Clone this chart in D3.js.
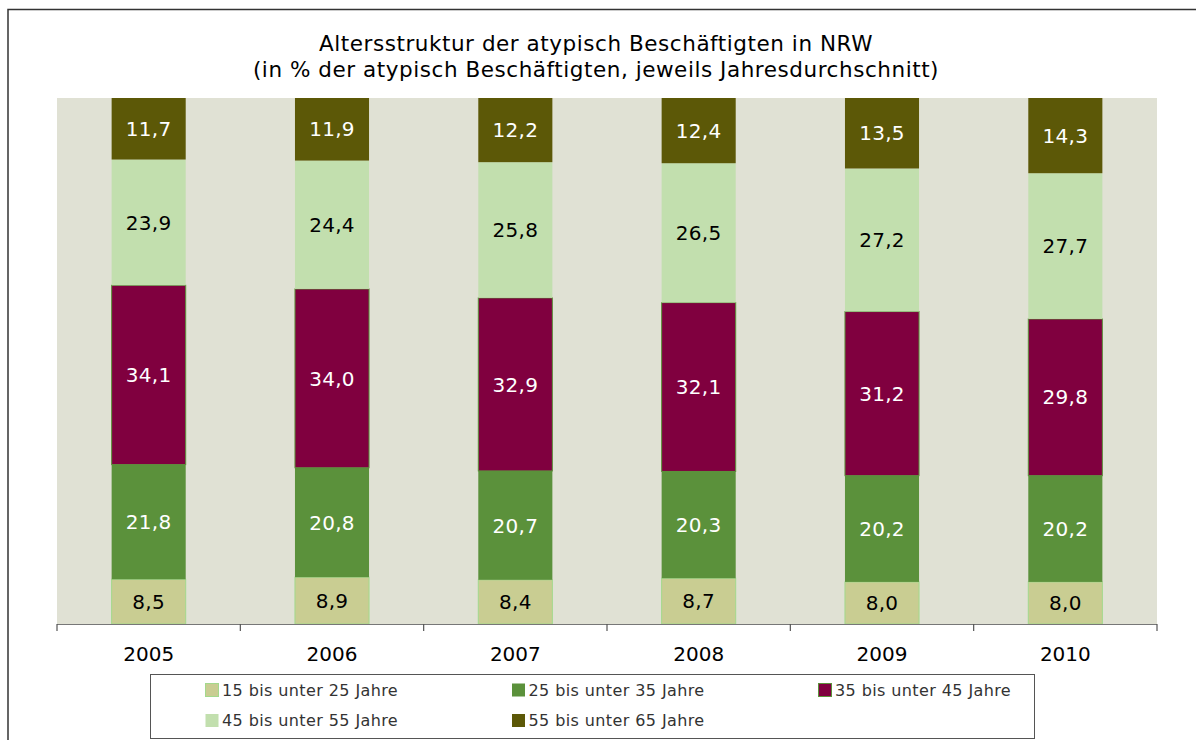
<!DOCTYPE html>
<html>
<head>
<meta charset="utf-8">
<script src="https://cdn.jsdelivr.net/npm/d3@7"></script>
<style>
    body { margin: 0; background: #fff; }
    svg { display: block; font-family: "DejaVu Sans", sans-serif; }
</style>
</head>
<body>
<div id="plot"></div>
<script>
//Chart data
const years = ["2005", "2006", "2007", "2008", "2009", "2010"];
const groups = ["15 bis unter 25 Jahre", "25 bis unter 35 Jahre", "35 bis unter 45 Jahre",
    "45 bis unter 55 Jahre", "55 bis unter 65 Jahre"];
const s15 = [8.5, 8.9, 8.4, 8.7, 8.0, 8.0];
const s25 = [21.8, 20.8, 20.7, 20.3, 20.2, 20.2];
const s35 = [34.1, 34.0, 32.9, 32.1, 31.2, 29.8];
const s45 = [23.9, 24.4, 25.8, 26.5, 27.2, 27.7];
const s55 = [11.7, 11.9, 12.2, 12.4, 13.5, 14.3];
const titleLines = ["Altersstruktur der atypisch Beschäftigten in NRW",
    "(in % der atypisch Beschäftigten, jeweils Jahresdurchschnitt)"];

//Colors per group
const fills = ["#c9cd92", "#5b913b", "#80003f", "#c2dfae", "#5c5807"];
const strokes = ["#a3d98c", "none", "#5b913b", "none", "none"];
const labelColors = ["#000", "#fff", "#fff", "#000", "#fff"];

const w = 1196;
const h = 740;
const svg = d3.select("#plot")
    .append("svg")
    .attr("width", w)
    .attr("height", h);

//Frame lines (top and left)
svg.append("path")
    .attr("d", "M8,740 V9.5 H1196")
    .attr("fill", "none")
    .attr("stroke", "#333")
    .attr("stroke-width", 1.5);

//Title
svg.selectAll("text.title")
    .data(titleLines)
    .join("text")
    .attr("class", "title")
    .attr("x", 596)
    .attr("y", (d, i) => 51 + i * 26)
    .attr("text-anchor", "middle")
    .attr("font-size", 21.5)
    .attr("letter-spacing", 0.55)
    .attr("fill", "#000")
    .text(d => d);

//Plot area
const plot = { left: 57, right: 1157, top: 98, bottom: 624 };

const x = d3.scaleBand()
    .domain(years)
    .range([plot.left, plot.right])
    .paddingInner(0)
    .paddingOuter(0);

const y = d3.scaleLinear()
    .domain([0, 100])
    .range([plot.bottom, plot.top]);

svg.append("rect")
    .attr("x", plot.left)
    .attr("y", plot.top)
    .attr("width", plot.right - plot.left)
    .attr("height", plot.bottom - plot.top)
    .attr("fill", "#e0e1d4");

//Build a table for the stack
const table = years.map((yr, i) => ({
    year: yr,
    g0: s15[i], g1: s25[i], g2: s35[i], g3: s45[i], g4: s55[i]
}));
const keys = ["g0", "g1", "g2", "g3", "g4"];
const stacked = d3.stack().keys(keys)(table);

const barW = x.bandwidth() * 0.404;
const fmt = d3.formatLocale({ decimal: ",", thousands: ".", grouping: [3], currency: ["", "€"] }).format(".1f");

const layers = svg.append("g")
    .selectAll("g")
    .data(stacked)
    .join("g");

layers.selectAll("rect")
    .data((d, k) => d.map(p => ({ p: p, k: k })))
    .join("rect")
    .attr("x", d => x(d.p.data.year) + x.bandwidth() / 2 - barW / 2)
    .attr("y", d => Math.max(y(d.p[1]), plot.top))
    .attr("width", barW)
    .attr("height", d => y(d.p[0]) - Math.max(y(d.p[1]), plot.top))
    .attr("fill", d => fills[d.k])
    .attr("stroke", d => strokes[d.k])
    .attr("stroke-width", 1);

//Value labels in the middle of each segment
layers.selectAll("text")
    .data((d, k) => d.map(p => ({ p: p, k: k })))
    .join("text")
    .attr("x", d => x(d.p.data.year) + x.bandwidth() / 2)
    .attr("y", d => (y(d.p[0]) + Math.max(y(d.p[1]), plot.top)) / 2)
    .attr("dy", "0.36em")
    .attr("text-anchor", "middle")
    .attr("font-size", 20)
    .attr("letter-spacing", 0.3)
    .attr("fill", d => labelColors[d.k])
    .text(d => fmt(d.p[1] - d.p[0]));

//X axis with ticks between categories
const axis = svg.append("g");
axis.append("line")
    .attr("x1", plot.left)
    .attr("x2", plot.right)
    .attr("y1", plot.bottom + 0.5)
    .attr("y2", plot.bottom + 0.5)
    .attr("stroke", "#777")
    .attr("stroke-width", 1);
axis.selectAll("line.tick")
    .data(years.concat(["end"]))
    .join("line")
    .attr("class", "tick")
    .attr("x1", (d, i) => i < years.length ? x(d) : plot.right)
    .attr("x2", (d, i) => i < years.length ? x(d) : plot.right)
    .attr("y1", plot.bottom)
    .attr("y2", plot.bottom + 7)
    .attr("stroke", "#555")
    .attr("stroke-width", 1.2);
axis.selectAll("text")
    .data(years)
    .join("text")
    .attr("x", d => x(d) + x.bandwidth() / 2)
    .attr("y", 661)
    .attr("text-anchor", "middle")
    .attr("font-size", 20)
    .attr("fill", "#000")
    .text(d => d);

//Legend
const legend = svg.append("g");
legend.append("rect")
    .attr("x", 150.5)
    .attr("y", 674.5)
    .attr("width", 884)
    .attr("height", 64)
    .attr("fill", "#fff")
    .attr("stroke", "#555")
    .attr("stroke-width", 1);

const legItems = legend.selectAll("g")
    .data(groups)
    .join("g")
    .attr("transform", (d, i) => "translate(" + (205 + (i % 3) * 306.5) + "," + (690 + Math.floor(i / 3) * 30.5) + ")");
legItems.append("rect")
    .attr("x", 0.5)
    .attr("y", -6.5)
    .attr("width", 13)
    .attr("height", 13)
    .attr("fill", (d, i) => fills[i])
    .attr("stroke", (d, i) => strokes[i])
    .attr("stroke-width", 1);
legItems.append("text")
    .attr("x", 17)
    .attr("y", 0)
    .attr("dy", "0.36em")
    .attr("font-size", 16)
    .attr("letter-spacing", 0.4)
    .attr("fill", "#333")
    .text(d => d);
</script>
</body>
</html>
